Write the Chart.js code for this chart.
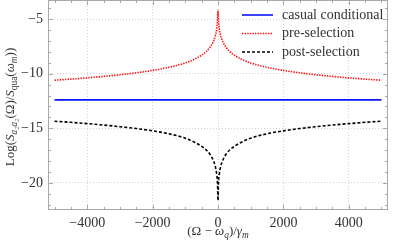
<!DOCTYPE html>
<html>
<head>
<meta charset="utf-8">
<script src="https://cdn.jsdelivr.net/npm/chart.js@4/dist/chart.umd.min.js"></script>
<style>
  html, body { margin: 0; padding: 0; background: #fff; }
  #wrap { width: 399px; height: 242px; }
</style>
</head>
<body>
<div id="wrap"><canvas id="chart"></canvas></div>
<script>
// detuning (Omega - omega_q)/gamma_m, denser near the resonance
const freqs = [-5000, -4500, -4000, -3500, -3000, -2500, -2000, -1500, -1000, -700, -500, -350, -250, -150, -80, -40, -15, 0,
  15, 40, 80, 150, 250, 350, 500, 700, 1000, 1500, 2000, 2500, 3000, 3500, 4000, 4500, 5000];
const preSelection = [-10.6, -10.5, -10.38, -10.25, -10.1, -9.92, -9.7, -9.42, -9.02, -8.65, -8.3, -7.95, -7.6, -7.1, -6.5, -5.9, -5.1, -4.2,
  -5.1, -5.9, -6.5, -7.1, -7.6, -7.95, -8.3, -8.65, -9.02, -9.42, -9.7, -9.92, -10.1, -10.25, -10.38, -10.5, -10.6];
const postSelection = [-14.35, -14.45, -14.57, -14.7, -14.85, -15.02, -15.23, -15.5, -15.9, -16.3, -16.65, -17.0, -17.35, -17.9, -18.5, -19.2, -20.0, -21.6,
  -20.0, -19.2, -18.5, -17.9, -17.35, -17.0, -16.65, -16.3, -15.9, -15.5, -15.23, -15.02, -14.85, -14.7, -14.57, -14.45, -14.35];
const casualLevel = [-12.4, -12.4];
const casualFreqs = [-5000, 5000];
const seriesNames = ['casual conditional', 'pre-selection', 'post-selection'];
const xTicks = [-4000, -2000, 0, 2000, 4000];
const yTicks = [-20, -15, -10, -5];

const SERIF = '"Liberation Serif", "DejaVu Serif", serif';
const minus = v => String(v).replace('-', '\u2212');

// draws a run of text pieces, some italic or subscripted
function richWidth(ctx, parts, size) {
  let w = 0;
  parts.forEach(p => {
    const s = p.sub ? size * 0.72 : size;
    ctx.font = (p.it ? 'italic ' : '') + s + 'px ' + SERIF;
    w += ctx.measureText(p.t).width;
  });
  return w;
}
function drawRich(ctx, parts, cx, cy, size) {
  let x = cx - richWidth(ctx, parts, size) / 2;
  ctx.textBaseline = 'middle';
  ctx.textAlign = 'left';
  parts.forEach(p => {
    const s = p.sub ? size * 0.72 : size;
    ctx.font = (p.it ? 'italic ' : '') + s + 'px ' + SERIF;
    ctx.fillText(p.t, x, p.sub ? cy + size * 0.3 : cy);
    x += ctx.measureText(p.t).width;
  });
}

const xTitle = [{t: '(Ω \u2212 '}, {t: 'ω', it: true}, {t: 'q', it: true, sub: true}, {t: ')/'}, {t: 'γ', it: true}, {t: 'm', it: true, sub: true}];
const yTitle = [{t: 'Log('}, {t: 'S', it: true}, {t: 'a₂a₂', it: true, sub: true}, {t: '(Ω)/'}, {t: 'S', it: true}, {t: 'qua', sub: true},
  {t: '('}, {t: 'ω', it: true}, {t: 'm', it: true, sub: true}, {t: '))'}];

const framePlugin = {
  id: 'frame',
  afterDraw(chart) {
    const {ctx, chartArea: a, scales: {x, y}} = chart;
    ctx.save();
    ctx.strokeStyle = '#a8a8a8';
    ctx.lineWidth = 1;
    ctx.strokeRect(a.left + 0.5, a.top + 0.5, a.right - a.left - 1, a.bottom - a.top - 1);
    ctx.beginPath();
    for (let v = -5000; v <= 5000; v += 500) {
      const px = Math.round(x.getPixelForValue(v)) + 0.5;
      if (px <= a.left + 1 || px >= a.right - 1) continue;
      const len = v % 2000 === 0 ? 5 : 3;
      ctx.moveTo(px, a.bottom); ctx.lineTo(px, a.bottom - len);
      ctx.moveTo(px, a.top); ctx.lineTo(px, a.top + len);
    }
    for (let v = -22; v <= -4; v += 1) {
      const py = Math.round(y.getPixelForValue(v)) + 0.5;
      const len = v % 5 === 0 ? 5 : 3;
      ctx.moveTo(a.left, py); ctx.lineTo(a.left + len, py);
      ctx.moveTo(a.right, py); ctx.lineTo(a.right - len, py);
    }
    ctx.stroke();

    // legend, top right inside the plot
    chart.data.datasets.forEach((ds, i) => {
      const ly = 15 + i * 18.5;
      ctx.beginPath();
      ctx.strokeStyle = ds.borderColor;
      ctx.lineWidth = ds.borderWidth;
      ctx.setLineDash(ds.borderDash || []);
      ctx.moveTo(242, ly); ctx.lineTo(273, ly);
      ctx.stroke();
      ctx.setLineDash([]);
      ctx.fillStyle = '#333';
      ctx.font = '14px ' + SERIF;
      ctx.textBaseline = 'middle';
      ctx.textAlign = 'left';
      ctx.fillText(ds.label, 282, ly);
    });

    // axis titles
    ctx.fillStyle = '#333';
    drawRich(ctx, xTitle, (a.left + a.right) / 2, 232, 13);
    ctx.translate(11, 107);
    ctx.rotate(-Math.PI / 2);
    drawRich(ctx, yTitle, 0, 0, 13);
    ctx.restore();
  }
};

new Chart(document.getElementById('chart'), {
  type: 'line',
  data: {
    datasets: [
      {
        label: seriesNames[0],
        data: casualFreqs.map((f, i) => ({x: f, y: casualLevel[i]})),
        borderColor: '#0a14ff',
        borderWidth: 1.6,
      },
      {
        label: seriesNames[1],
        data: freqs.map((f, i) => ({x: f, y: preSelection[i]})),
        borderColor: '#ff1010',
        borderWidth: 1.6,
        borderDash: [1.4, 1.2],
      },
      {
        label: seriesNames[2],
        data: freqs.map((f, i) => ({x: f, y: postSelection[i]})),
        borderColor: '#000000',
        borderWidth: 1.6,
        borderDash: [3, 2],
      },
    ],
  },
  options: {
    responsive: true,
    maintainAspectRatio: false,
    animation: false,
    layout: {padding: {top: 0, right: 11, left: 0, bottom: 0}},
    elements: {
      point: {radius: 0},
      line: {cubicInterpolationMode: 'monotone', fill: false},
    },
    plugins: {legend: {display: false}, tooltip: {enabled: false}},
    scales: {
      x: {
        type: 'linear',
        min: -5200,
        max: 5200,
        afterBuildTicks: s => { s.ticks = xTicks.map(v => ({value: v})); },
        afterFit: s => { s.height = 32; s.paddingLeft = 0; s.paddingRight = 0; },
        grid: {color: '#d4d4d4', drawTicks: false},
        border: {display: false, dash: [1, 2]},
        ticks: {
          padding: 5,
          color: '#333',
          font: {family: SERIF, size: 14},
          callback: minus,
        },
      },
      y: {
        min: -22.47,
        max: -3.26,
        afterBuildTicks: s => { s.ticks = yTicks.map(v => ({value: v})); },
        afterFit: s => { s.width = 48; s.paddingTop = 0; s.paddingBottom = 0; },
        grid: {color: '#d4d4d4', drawTicks: false},
        border: {display: false, dash: [1, 2]},
        ticks: {
          padding: 5,
          color: '#333',
          font: {family: SERIF, size: 14},
          callback: minus,
        },
      },
    },
  },
  plugins: [framePlugin],
});
</script>
</body>
</html>
